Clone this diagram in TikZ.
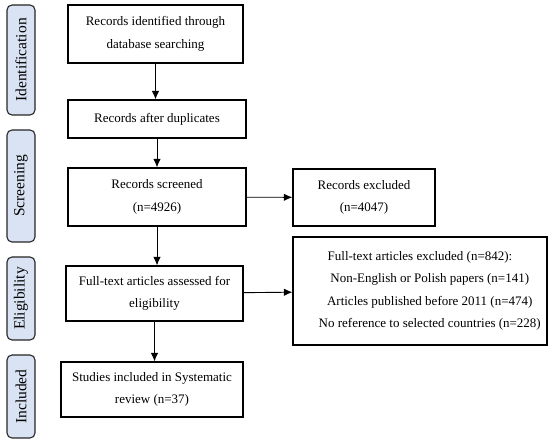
\documentclass[tikz,border=0pt]{standalone}
\usepackage{fontspec}
\setmainfont{Liberation Serif}
\usetikzlibrary{arrows.meta,positioning,calc}
\definecolor{phasefill}{RGB}{218,227,243}

\begin{document}
\begin{tikzpicture}[
  x=1pt, y=-1pt,
  font=\fontsize{13}{22.5}\selectfont,
  >=Latex,
  arrow/.style={-{Latex[length=3mm,width=2.6mm]}, line width=0.9pt, draw=black},
  box/.style={draw=black, line width=1.1pt, fill=white, align=center, inner sep=2pt},
  phase/.style={draw=black!85, line width=1.1pt, fill=phasefill, rounded corners=5pt,
    rotate=90, minimum height=28pt, inner sep=0pt, font=\fontsize{15.5}{18}\selectfont}
]
\useasboundingbox (0,0) rectangle (550,443);

% phase labels on the left
\node[phase, minimum width=110pt] (identification) at (21,60) {Identification};
\node[phase, minimum width=112pt] (screening) at (21,186) {Screening};
\node[phase, minimum width=83pt] (eligibility) at (21,298.5) {Eligibility};
\node[phase, minimum width=83pt] (included) at (21,396.5) {Included};

% main flow
\node[box, minimum width=175pt, minimum height=58pt] (records) at (155.5,34)
  {Records identified through\\database searching};
\node[box, minimum width=178pt, minimum height=38pt] (duplicates) at (157,119)
  {Records after duplicates};
\node[box, minimum width=178pt, minimum height=58pt] (screened) at (157,197)
  {Records screened\\(n=4926)};
\node[box, minimum width=177pt, minimum height=55pt] (fulltext) at (154.5,293.5)
  {Full-text articles assessed for\\eligibility};
\node[box, minimum width=182pt, minimum height=55pt] (studies) at (152,389.5)
  {Studies included in Systematic\\review (n=37)};

% exclusions
\node[box, minimum width=142pt, minimum height=57pt] (excluded) at (364,197.5)
  {Records excluded\\(n=4047)};
\node[box, minimum width=254pt, minimum height=108pt] (ftexcluded) at (420,291)
  {Full-text articles excluded (n=842):\\
   \hspace*{1.5em}Non-English or Polish papers (n=141)\\
   \hspace*{1.5em}Articles published before 2011 (n=474)\\
   \hspace*{1.5em}No reference to selected countries (n=228)};

\draw[arrow] (records) -- (records |- duplicates.north);
\draw[arrow] (duplicates) -- (duplicates |- screened.north);
\draw[arrow] (screened) -- (screened |- fulltext.north);
\draw[arrow] (fulltext) -- (fulltext |- studies.north);
\draw[arrow] (screened) -- (excluded);
\draw[arrow] (fulltext) -- (ftexcluded);

\end{tikzpicture}
\end{document}
